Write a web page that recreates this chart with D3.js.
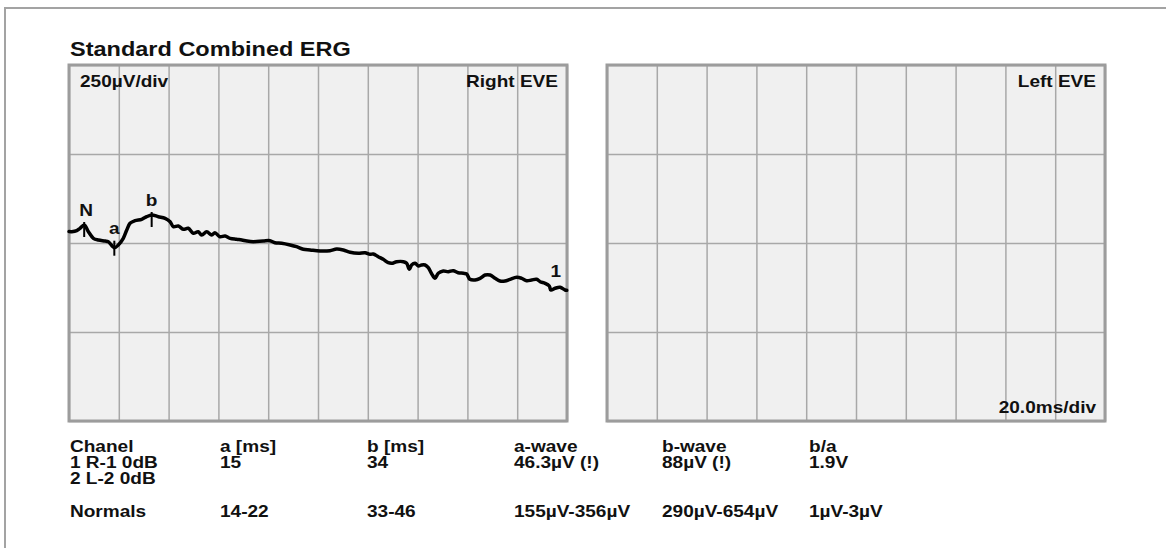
<!DOCTYPE html>
<html>
<head>
<meta charset="utf-8">
<script src="https://cdn.jsdelivr.net/npm/d3@7"></script>
<style>
  html, body { margin: 0; padding: 0; background: #fff; }
  svg { display: block; font-family: "Liberation Sans", Arial, Helvetica, sans-serif; }
  text { font-weight: bold; fill: #111; }
</style>
</head>
<body>
<svg id="chart" width="1166" height="548"></svg>
<script>
// Right eye trace: time (ms) and amplitude (µV)
const traceTime = [0, 1.1, 3.1, 4.4, 6.1, 7.8, 9.8, 11.8, 14.5, 15.8, 18.2, 19.8, 21.8, 23.2, 24.5, 26.5,
  29.2, 31.2, 33.2, 35.9, 38.6, 40.6, 41.9, 43.9, 45.9, 47.9, 49.9, 51.9, 53.3, 55.3, 57.3, 58.6,
  60.6, 62.7, 64.7, 67.3, 69.4, 71.4, 74.0, 78.0, 80.7, 82.7, 85.4, 88.8, 91.4, 94.1, 96.8, 100.8,
  104.8, 107.5, 110.2, 112.9, 116.2, 118.9, 120.9, 122.2, 124.2, 126.2, 128.2, 129.6, 131.6, 134.3,
  135.6, 136.7, 137.6, 139.0, 140.3, 141.6, 143.0, 144.3, 145.7, 147.0, 148.3, 150.3, 152.3, 154.3,
  156.3, 158.4, 159.7, 161.0, 163.1, 165.1, 167.1, 169.1, 171.1, 173.1, 175.1, 177.1, 179.8, 181.8,
  183.8, 185.8, 187.8, 189.2, 191.2, 192.9, 193.5, 195.2, 197.2, 199.2, 199.9];
const traceAmp = [32, 31.7, 34.6, 41.3, 50.6, 31.7, 13.2, 8.4, 5.6, 3.7, -13.2, -5.6, 13.2, 36.5, 55.3, 62.6,
  66.6, 73.9, 78.7, 73.9, 69.4, 59.8, 45.8, 47.8, 38.5, 41.3, 27.2, 31.7, 22.5, 31.7, 22.5, 28.9,
  17.7, 19.7, 13.2, 10.4, 8.4, 5.6, 3.7, 5.6, 6.5, 0.8, -0.8, -5.6, -10.4, -17.7, -19.7, -22.5,
  -21.6, -16.9, -19.7, -26.1, -28.9, -27.2, -31.7, -30.9, -38.5, -45.8, -55.3, -57.0, -52.5, -52.5,
  -57.0, -73.9, -61.8, -57.0, -64.6, -61.8, -61.8, -69.4, -87.1, -99.2, -85.1, -78.7, -80.6, -77.8,
  -83.4, -85.1, -87.1, -102.0, -103.9, -99.2, -89.9, -89.9, -99.2, -106.7, -106.7, -102.0, -96.3, -99.2,
  -105.9, -103.9, -102.0, -108.7, -113.2, -120.8, -132.0, -127.2, -124.4, -132.0, -132.9];

// Picked peaks on the trace
const markerNames = ["N", "a", "b"];
const markerTimes = [6.1, 18.2, 33.2];
const markerAmps = [50.6, -13.2, 78.7];
const markerKinds = ["peak", "trough", "peak"];

// Axis settings
const timeDomain = [0, 200];      // 20.0 ms/div
const ampDomain = [-500, 500];    // 250 µV/div
const timeTicks = d3.range(0, 201, 20);
const ampTicks = d3.range(-500, 501, 250);

// Result table
const tableHeaders = ["Chanel", "a [ms]", "b [ms]", "a-wave", "b-wave", "b/a"];
const rowRight = ["1 R-1 0dB", "15", "34", "46.3µV (!)", "88µV (!)", "1.9V"];
const rowLeft = ["2 L-2 0dB", "", "", "", "", ""];
const rowNormals = ["Normals", "14-22", "33-46", "155µV-356µV", "290µV-654µV", "1µV-3µV"];

const svg = d3.select("#chart");

// printout lettering is slightly wide
function label(parent, x, y, str, size, anchor, stretch) {
  return parent.append("text")
    .attr("transform", `translate(${x},${y}) scale(${stretch || 1.12},1)`)
    .attr("text-anchor", anchor || "start")
    .style("font-size", size + "px")
    .text(str);
}

// page frame
svg.append("rect")
  .attr("x", 5).attr("y", 8).attr("width", 1200).attr("height", 600)
  .attr("fill", "none").attr("stroke", "#a3a3a3").attr("stroke-width", 2);

label(svg, 70, 56, "Standard Combined ERG", 21);

const panelW = 498, panelH = 356, panelTop = 65;
const x = d3.scaleLinear().domain(timeDomain).range([0, panelW]);
const y = d3.scaleLinear().domain(ampDomain).range([panelH, 0]);

function drawPanel(left) {
  const g = svg.append("g").attr("transform", `translate(${left},${panelTop})`);
  g.append("rect").attr("width", panelW).attr("height", panelH).attr("fill", "#f0f0f0");
  g.append("g")
    .attr("transform", `translate(0,${panelH})`)
    .call(d3.axisBottom(x).tickValues(timeTicks).tickSize(panelH).tickFormat(""))
    .call(a => a.select(".domain").remove())
    .call(a => a.selectAll(".tick line").attr("y2", -panelH).attr("stroke", "#a8a8a8").attr("stroke-width", 1.5));
  g.append("g")
    .call(d3.axisLeft(y).tickValues(ampTicks).tickSize(-panelW).tickFormat(""))
    .call(a => a.select(".domain").remove())
    .call(a => a.selectAll(".tick line").attr("stroke", "#a8a8a8").attr("stroke-width", 1.5));
  g.append("rect").attr("width", panelW).attr("height", panelH)
    .attr("fill", "none").attr("stroke", "#9c9c9c").attr("stroke-width", 3);
  return g;
}

const gR = drawPanel(69);
const gL = drawPanel(607);

label(gR, 11, 22, "250µV/div", 17);
label(gR, panelW - 9, 22, "Right EVE", 17, "end");
label(gL, panelW - 9, 22, "Left EVE", 17, "end");
label(gL, panelW - 9, panelH - 8, "20.0ms/div", 17, "end");

// trace
const trace = traceTime.map((t, i) => [t, traceAmp[i]]);
gR.append("path")
  .datum(trace)
  .attr("fill", "none").attr("stroke", "#000").attr("stroke-width", 3.5)
  .attr("stroke-linejoin", "round").attr("stroke-linecap", "round")
  .attr("d", d3.line().x(d => x(d[0])).y(d => y(d[1])).curve(d3.curveCatmullRom.alpha(0.5)));

// markers
markerNames.forEach((name, i) => {
  const mx = x(markerTimes[i]), my = y(markerAmps[i]);
  const up = markerKinds[i] === "peak" ? 3 : 7;
  const down = markerKinds[i] === "peak" ? 12 : 8;
  gR.append("line")
    .attr("x1", mx).attr("x2", mx).attr("y1", my - up).attr("y2", my + down)
    .attr("stroke", "#000").attr("stroke-width", 2);
  label(gR, mx + (name === "N" ? 2 : 0), my - (markerKinds[i] === "peak" ? 9 : 14), name, 17, "middle");
});

// channel number at the trace end
label(gR, x(traceTime[traceTime.length - 1]) - 11, y(traceAmp[traceAmp.length - 1]) - 13, "1", 17, "middle");

// results table
const colX = [70, 220, 367, 514, 662, 809];
const rows = [[tableHeaders, 452], [rowRight, 468], [rowLeft, 484], [rowNormals, 517]];
rows.forEach(([vals, yy]) => {
  vals.forEach((v, j) => {
    if (!v) return;
    label(svg, colX[j], yy, v, 16, "start", 1.19);
  });
});
</script>
</body>
</html>
